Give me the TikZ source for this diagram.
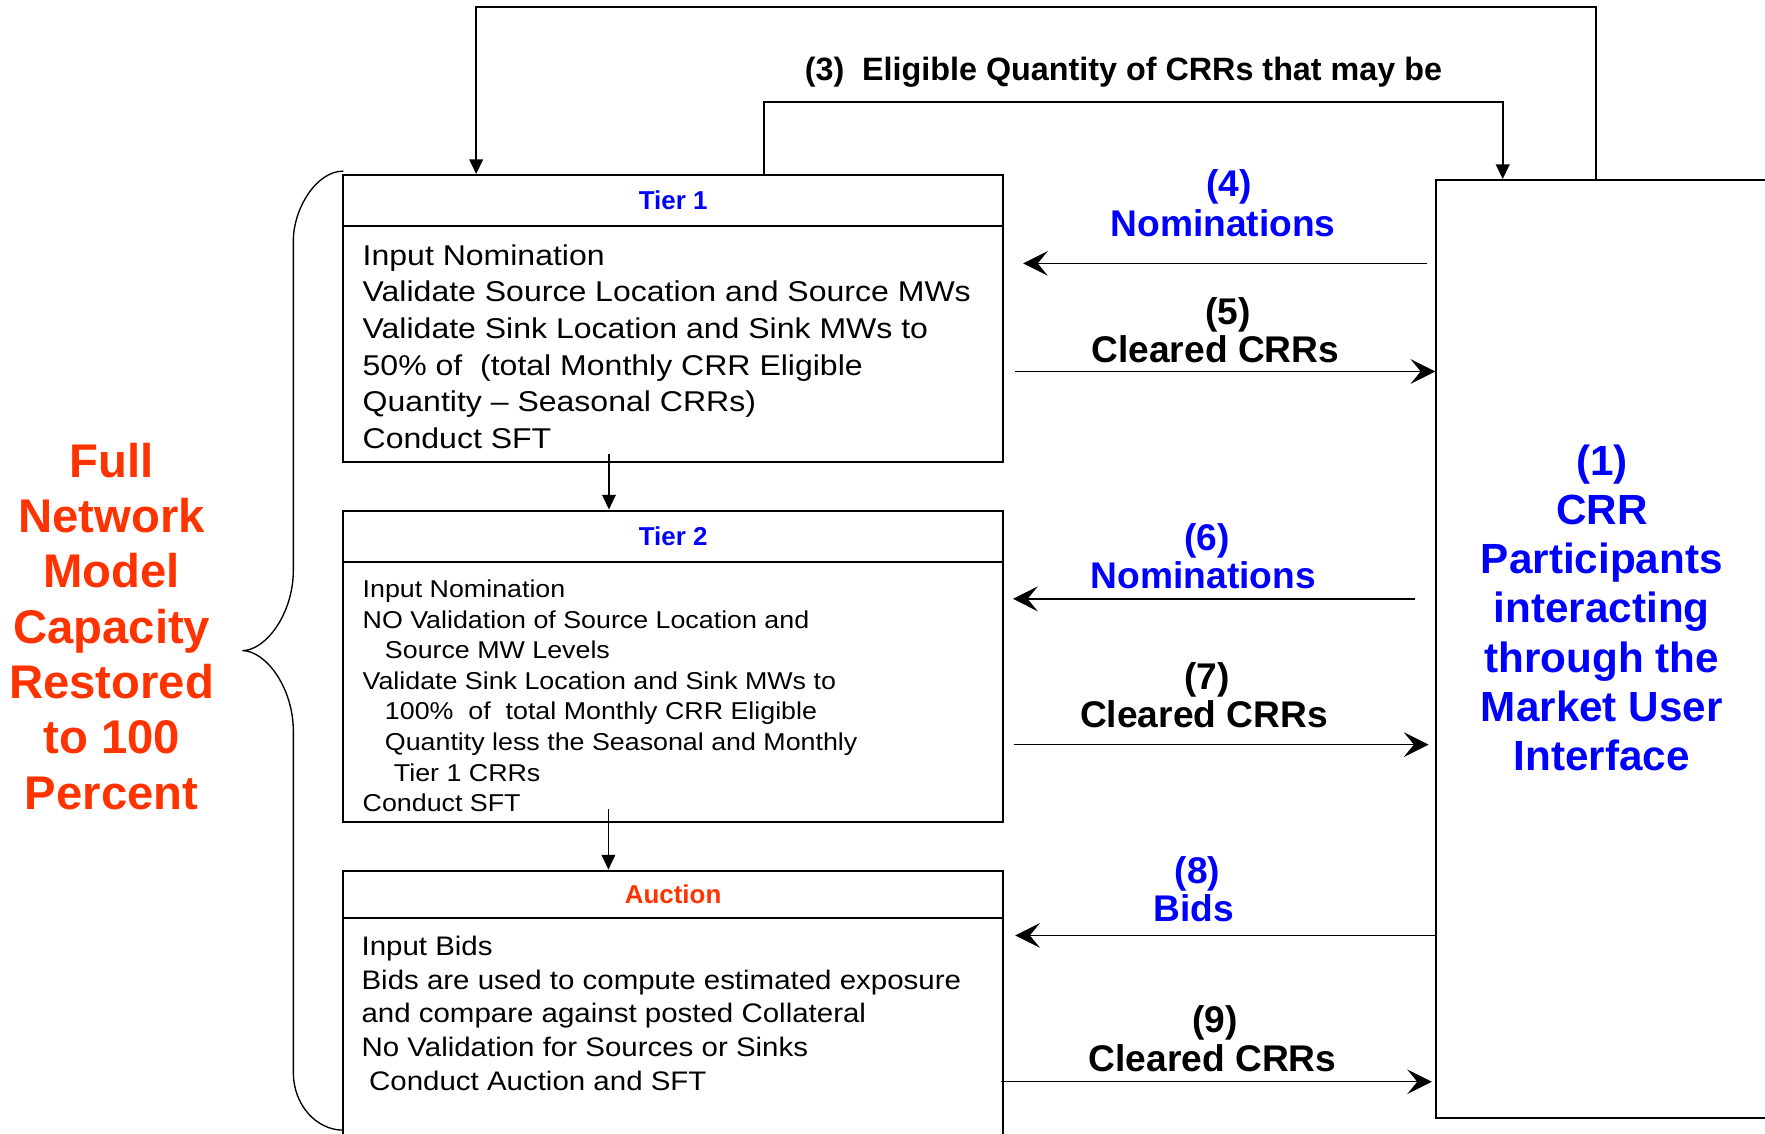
\documentclass[tikz,border=0pt]{standalone}
\usepackage{fontspec}
\setmainfont{Liberation Sans}
\newfontfamily\bodyfont[FakeStretch=1.12]{Liberation Sans}
\newfontfamily\bodyfontb[FakeStretch=1.1]{Liberation Sans}
\usetikzlibrary{arrows.meta,calc}
\definecolor{ublue}{RGB}{0,0,255}
\definecolor{ured}{RGB}{255,51,0}
\tikzset{
 hdr/.style={draw, line width=1.8pt, minimum width=586pt, inner sep=0pt, font=\fontsize{23}{26}\selectfont\bfseries},
 bodybox/.style={draw, line width=1.8pt, minimum width=586pt, inner sep=0pt},
 bodytxt/.style={anchor=north west, inner sep=0pt, align=left},
 bigarrow/.style={line width=1.2pt, -{Stealth[length=22pt,width=22pt,inset=9pt]}},
 smallarrow/.style={line width=1.3pt, -{Triangle[length=13pt,width=12pt]}},
 num/.style={anchor=base, inner sep=0pt, font=\fontsize{33}{36}\selectfont\bfseries},
}
\begin{document}
\begin{tikzpicture}[x=1pt,y=-1pt]
\useasboundingbox (0,0) rectangle (1568,1007.4);

% left label
\node[anchor=north, inner sep=0pt, align=center, text=ured, font=\fontsize{42}{49.2}\selectfont\bfseries] (fnm) at (99.2,387.6)
 {\rule{0pt}{36pt}Full\\Network\\Model\\Capacity\\Restored\\to 100\\Percent};

% brace
\draw[line width=1.2pt] (305,152) .. controls (280.6,152) and (260.6,186) .. (260.6,213.8) -- (260.6,506.4)
  .. controls (260.6,545.8) and (235.7,578) .. (215.3,578)
  .. controls (235.7,578) and (260.6,610.3) .. (260.6,649.7) -- (260.6,953)
  .. controls (260.6,981) and (280.6,1004) .. (305,1004);

% Tier 1
\node[hdr, minimum height=45pt, text=ublue] (t1h) at (598,178) {Tier 1};
\node[bodybox, minimum height=209.5pt] (t1b) at (598,305.25) {};
\node[bodytxt, font=\bodyfont\fontsize{25.4}{32.6}\selectfont] (t1txt) at (322,213.4)
 {\rule{0pt}{22pt}Input Nomination\\
  Validate Source Location and Source MWs\\
  Validate Sink Location and Sink MWs to\\
  50\% of\ \ (total Monthly CRR Eligible\\
  Quantity – Seasonal CRRs)\\
  Conduct SFT};

% Tier 2
\node[hdr, minimum height=45.9pt, text=ublue] (t2h) at (598,476.5) {Tier 2};
\node[bodybox, minimum height=231pt] (t2b) at (598,615) {};
\node[bodytxt, font=\bodyfontb\fontsize{21.65}{27.2}\selectfont] (t2txt) at (322,511.6)
 {\rule{0pt}{19pt}Input Nomination\\
  NO Validation of Source Location and\\
  \hspace*{19.8pt}Source MW Levels\\
  Validate Sink Location and Sink MWs to\\
  \hspace*{19.8pt}100\%\ \ of\ \ total Monthly CRR Eligible\\
  \hspace*{19.8pt}Quantity less the Seasonal and Monthly\\
  \hspace*{27.8pt}Tier 1 CRRs\\
  Conduct SFT};

% Auction
\node[hdr, minimum height=42.3pt, text=ured] (auh) at (598,794.6) {Auction};
\node[bodybox, minimum height=194.2pt] (aub) at (598,912.9) {};
\node[bodytxt, font=\bodyfontb\fontsize{23.8}{30}\selectfont] (autxt) at (321,828.4)
 {\rule{0pt}{20pt}Input Bids\\
  Bids are used to compute estimated exposure\\
  and compare against posted Collateral\\
  No Validation for Sources or Sinks\\
  \hspace*{6.7pt}Conduct Auction and SFT};

% CRR participants box
\node[draw, line width=1.8pt, minimum width=296pt, minimum height=833pt, inner sep=0pt] (crr) at (1424,576.5) {};
\node[anchor=north, inner sep=0pt, align=center, text=ublue, font=\fontsize{37.5}{43.7}\selectfont\bfseries] (crrtxt) at (1423,390)
 {\rule{0pt}{32pt}(1)\\CRR\\Participants\\interacting\\through the\\Market User\\Interface};

% top loops
\coordinate (o1) at (1418,6);
\coordinate (o2) at (423,6);
\draw[smallarrow, line width=1.8pt] (crr.north -| o1) -- (o1) -- (o2) -- (o2 |- t1h.north);
\coordinate (i1) at (679,91);
\coordinate (i2) at (1335,91);
\draw[smallarrow, line width=1.8pt] (t1h.north -| i1) -- (i1) -- (i2) -- (i2 |- crr.north);
\node[anchor=base, inner sep=0pt, font=\fontsize{28.7}{32}\selectfont\bfseries] (l3) at (998,71.1)
 {(3)\ \ Eligible Quantity of CRRs that may be};

% tier connectors
\coordinate (c1) at (541,0);
\draw[smallarrow] ($(t1b.south -| c1)+(0,-8)$) -- (c1 |- t2h.north);
\coordinate (c2) at (540.5,0);
\draw[smallarrow] ($(t2b.south -| c2)+(0,-12.5)$) -- (c2 |- auh.north);

% horizontal arrows
\coordinate (y4) at (0,234);
\coordinate (y5) at (0,330);
\coordinate (y6) at (0,532);
\coordinate (y7) at (0,661.5);
\coordinate (y8) at (0,831);
\coordinate (y9) at (0,961);
\draw[bigarrow] ($(crr.west |- y4)+(-7,0)$) -- ($(t1b.east |- y4)+(17,0)$);
\draw[bigarrow] ($(t1b.east |- y5)+(10,0)$) -- (crr.west |- y5);
\draw[bigarrow] ($(crr.west |- y6)+(-18,0)$) -- ($(t2b.east |- y6)+(8,0)$);
\draw[bigarrow] ($(t2b.east |- y7)+(9,0)$) -- ($(crr.west |- y7)+(-6,0)$);
\draw[bigarrow] (crr.west |- y8) -- ($(aub.east |- y8)+(10,0)$);
\draw[bigarrow] ($(aub.east |- y9)+(-3,0)$) -- ($(crr.west |- y9)+(-3,0)$);

% arrow labels
\node[num, text=ublue] (l4a) at (1091.8,174.7) {(4)};
\node[num, text=ublue] (l4b) at (1086.5,210.3) {Nominations};
\node[num] (l5a) at (1090.7,288.7) {(5)};
\node[num] (l5b) at (1079.7,321.9) {Cleared CRRs};
\node[num, text=ublue] (l6a) at (1072.3,489) {(6)};
\node[num, text=ublue] (l6b) at (1069,523) {Nominations};
\node[num] (l7a) at (1072.3,612.5) {(7)};
\node[num] (l7b) at (1069.6,646.5) {Cleared CRRs};
\node[num, text=ublue] (l8a) at (1063.9,785.2) {(8)};
\node[num, text=ublue] (l8b) at (1060.7,818.2) {Bids};
\node[num] (l9a) at (1079.4,917.6) {(9)};
\node[num] (l9b) at (1077.3,952.2) {Cleared CRRs};
\end{tikzpicture}
\end{document}
